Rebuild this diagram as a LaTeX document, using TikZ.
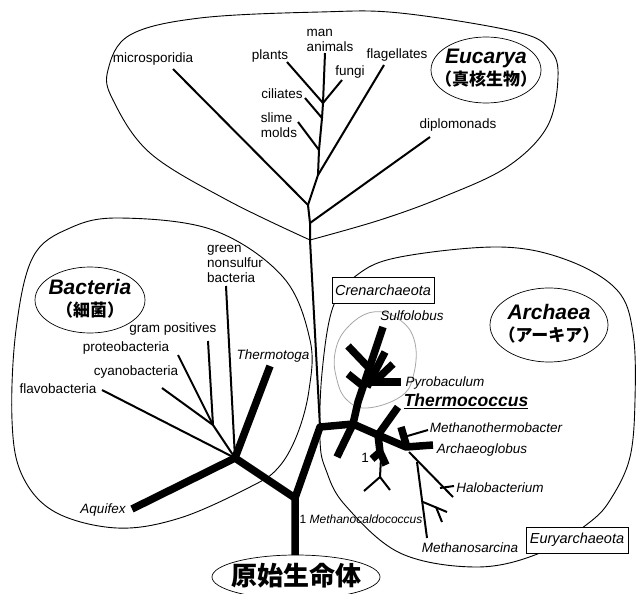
\documentclass[tikz,border=0pt]{standalone}
\usepackage{fontspec}
\setmainfont{Liberation Sans}
\newfontfamily\jpfont{Noto Sans CJK JP}
\usetikzlibrary{positioning}
\tikzset{
  envelope/.style={draw, line width=0.9pt},
  thinbr/.style={draw, line width=2pt, line join=round},
  thickbr/.style={draw, line width=7.5pt, line join=round},
  taxon/.style={inner sep=0pt, align=left, font=\fontsize{13.5}{15}\selectfont},
  itaxon/.style={taxon, font=\fontsize{13.5}{15}\selectfont\itshape},
  groupbox/.style={draw, line width=0.8pt, fill=white, inner sep=0pt,
    minimum width=102pt, minimum height=26pt,
    font=\fontsize{14.5}{16}\selectfont\itshape},
  domainname/.style={inner sep=0pt, align=center, font=\fontsize{21}{21.5}\selectfont},
  ring/.style={draw, line width=0.7pt},
}
\newcommand{\dname}[2]{{\bfseries\itshape #1}\\{\jpfont\bfseries\fontsize{17}{20}\selectfont #2}}

\begin{document}
\begin{tikzpicture}[x=1pt, y=-1pt]
  \useasboundingbox (0,0) rectangle (637,594);

  % envelopes
  \draw[envelope] plot[smooth, tension=0.6] coordinates {
    (310,240) (227,200) (150,153) (113,100) (108,70) (130,35) (200,18)
    (320,12) (400,13) (517,32) (550,50) (558,77) (547,127) (507,167)
    (443,197) (380,220) (310,240)};
  \draw[envelope] plot[smooth cycle, tension=0.6] coordinates {
    (33,257) (70,228) (120,218) (213,230) (283,277) (310,340) (309,390)
    (297,435) (278,468) (250,487) (180,518) (117,528) (55,512) (22,475)
    (12,420) (16,330)};
  \draw[envelope] plot[smooth cycle, tension=0.6] coordinates {
    (320,440) (322,373) (333,307) (357,275) (400,257) (500,247) (567,260)
    (617,290) (633,333) (635,400) (630,457) (612,497) (590,522) (540,553)
    (477,567) (400,553) (345,505) (326,470)};
  \draw[line width=0.8pt, gray!70] plot[smooth cycle, tension=0.7] coordinates {
    (373,312) (400,320) (415,343) (413,377) (400,397) (367,408) (347,400)
    (337,380) (335,353) (347,328)};

  % root and junctions
  \draw[ring, fill=white] (296,577) ellipse [x radius=84pt, y radius=22pt];
  \node[inner sep=0pt, font=\jpfont\bfseries\fontsize{26}{26}\selectfont] (root) at (296,576) {原始生命体};
  \coordinate (rtop) at (295,555);
  \coordinate (j0)   at (295,498);
  \coordinate (jbac) at (235,458);
  \coordinate (jgp)  at (213,425);
  \coordinate (jarc) at (320,427);
  \coordinate (j1)   at (353,424);
  \coordinate (j2)   at (378,435);
  \coordinate (j3)   at (406,447);
  \coordinate (jcr)  at (358,402);
  \coordinate (jeu)  at (310,240);

  % Eucarya
  \draw[thinbr] (jarc) -- (jeu) -- (310,223) coordinate (jdip) -- (308,205) coordinate (jmic)
    -- (318,175) coordinate (jfla) -- (319,150) coordinate (jsli)
    -- (322,118) coordinate (jcil) -- (323,103) coordinate (jcrown) -- (325,53) coordinate (man);
  \draw[thinbr] (jcrown) -- (287,62);
  \draw[thinbr] (jcrown) -- (342,80);
  \draw[thinbr] (jcil) -- (305,98);
  \draw[thinbr] (jsli) -- (298,122);
  \draw[thinbr] (jfla) -- (384,65);
  \draw[thinbr] (jmic) -- (173,69);
  \draw[thinbr] (jdip) -- (430,137);

  \node[taxon] (micro) at (153,59)  {microsporidia};
  \node[taxon] (plant) at (270,56)  {plants};
  \node[taxon] (anim)  at (330,40)  {man\\animals};
  \node[taxon] (fung)  at (350,72)  {fungi};
  \node[taxon] (flag)  at (397,55)  {flagellates};
  \node[taxon] (cili)  at (282,94)  {ciliates};
  \node[taxon] (slime) at (279,125) {slime\\molds};
  \node[taxon] (dipl)  at (458,125) {diplomonads};
  \node[domainname] (euc) at (486,68) {\dname{Eucarya}{（真核生物）}};
  \draw[ring] (486,70) ellipse [x radius=55pt, y radius=33pt];

  % Bacteria
  \draw[thickbr] (rtop) -- (j0) -- (jbac) -- (132,509) coordinate (aqu);
  \draw[thickbr] (jbac) -- (270,366) coordinate (thg);
  \draw[thinbr] (jbac) -- (226,286);
  \draw[thinbr] (jbac) -- (102,390);
  \draw[thinbr] (jbac) -- (jgp) -- (208,341);
  \draw[thinbr] (jgp) -- (178,355);
  \draw[thinbr] (jgp) -- (162,388);

  \node[taxon]  (green)  at (235,264) {green\\nonsulfur\\bacteria};
  \node[taxon]  (gram)   at (173,329) {gram positives};
  \node[taxon]  (proteo) at (126,348) {proteobacteria};
  \node[taxon]  (cyano)  at (136,372) {cyanobacteria};
  \node[taxon]  (flavo)  at (58,389)  {flavobacteria};
  \node[itaxon] (thermo) at (273,356) {Thermotoga};
  \node[itaxon] (aquif)  at (103,510) {Aquifex};
  \node[domainname] (bac) at (90,299) {\dname{Bacteria}{（細菌）}};
  \draw[ring] (90,300) ellipse [x radius=55pt, y radius=33pt];

  % Archaea
  \draw[thickbr] (j0) -- (jarc) -- (j1) -- (j2) -- (j3) -- (433,445);
  \draw[thickbr] (j1) -- (337,457);
  \draw[thickbr] (j1) -- (jcr) -- (383,327);
  \draw[thickbr] (369,368) -- (348,346);
  \draw[thickbr] (363,386) -- (348,374);
  \draw[thickbr] (367,387) -- (385,352);
  \draw[thickbr] (373,383) -- (393,364);
  \draw[thickbr] (369,382) -- (401,382);
  \draw[thickbr] (j2) -- (398,407);
  \draw[thickbr] (401,427) -- (406,444);
  \draw[thinbr]  (404,437) -- (428,430);
  \draw[thickbr] (j2) -- (380,452) -- (386,465);
  \draw[thickbr] (380,452) -- (372,459);
  \draw[thinbr]  (381,458) -- (380,477) coordinate (jmc) -- (364,491);
  \draw[thinbr]  (jmc) -- (390,490);
  \draw[thinbr]  (409,452) -- (453,497);
  \draw[thinbr]  (440,488) -- (454,486);
  \draw[thinbr]  (417,462) -- (427,538);
  \draw[thinbr]  (423,502) -- (447,512);
  \draw[thinbr]  (436,507) -- (442,522);

  \node[itaxon] (sulf)  at (412,316) {Sulfolobus};
  \node[itaxon] (pyro)  at (445,383) {Pyrobaculum};
  \node[inner sep=0pt, font=\fontsize{17.5}{18}\selectfont\bfseries\itshape] (tcoc) at (466,401)
    {\underline{Thermococcus}};
  \node[itaxon] (mthb)  at (496,428) {Methanothermobacter};
  \node[itaxon] (arcg)  at (482,450) {Archaeoglobus};
  \node[itaxon] (halo)  at (500,488) {Halobacterium};
  \node[itaxon] (msar)  at (470,548) {Methanosarcina};
  \node[taxon]  (one)   at (365,458) {1};
  \node[inner sep=0pt, font=\fontsize{12}{13}\selectfont] (mcal) at (361,519)
    {1 \textit{Methanocaldococcus}};
  \node[groupbox] (cren) at (383,290) {Crenarchaeota};
  \node[groupbox] (eury) at (577,540) {Euryarchaeota};
  \node[domainname] (arc) at (549,324) {\dname{Archaea}{（アーキア）}};
  \draw[ring] (549,325) ellipse [x radius=59pt, y radius=37pt];
\end{tikzpicture}
\end{document}
